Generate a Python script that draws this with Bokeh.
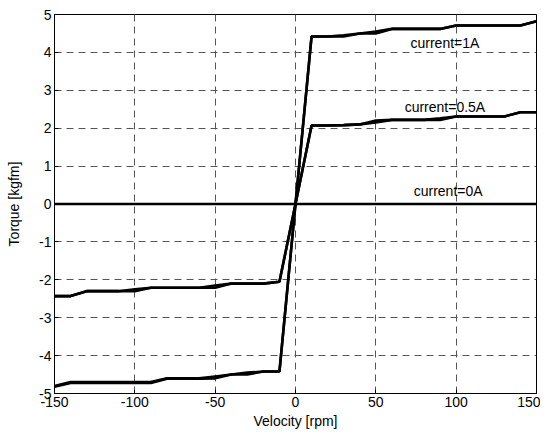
from bokeh.plotting import figure
from bokeh.models import Range1d, FixedTicker
from bokeh.core.properties import value
from bokeh.embed import file_html
from bokeh.resources import INLINE

# velocity grid (rpm)
velocity = [-150, -140, -130, -120, -110, -100, -90, -80, -70, -60, -50, -40, -30, -20, -10,
            0, 10, 20, 30, 40, 50, 60, 70, 80, 90, 100, 110, 120, 130, 140, 150]

# current = 1A, two sweeps
torque_1A_up = [-4.8, -4.7, -4.7, -4.7, -4.7, -4.7, -4.7, -4.6, -4.6, -4.6, -4.55, -4.5, -4.45, -4.42, -4.42,
                0.0, 4.42, 4.42, 4.45, 4.5, 4.55, 4.62, 4.62, 4.62, 4.62, 4.71, 4.71, 4.71, 4.71, 4.71, 4.82]
torque_1A_down = [-4.82, -4.72, -4.72, -4.72, -4.72, -4.72, -4.72, -4.61, -4.61, -4.61, -4.6, -4.5, -4.5, -4.42, -4.42,
                  0.0, 4.42, 4.42, 4.42, 4.5, 4.5, 4.62, 4.62, 4.62, 4.62, 4.71, 4.71, 4.71, 4.71, 4.71, 4.82]

# current = 0.5A, two sweeps
torque_05A_up = [-2.43, -2.43, -2.3, -2.3, -2.3, -2.25, -2.21, -2.21, -2.21, -2.21, -2.15, -2.1, -2.1, -2.1, -2.05,
                 0.0, 2.07, 2.07, 2.08, 2.1, 2.15, 2.22, 2.22, 2.22, 2.26, 2.31, 2.31, 2.31, 2.31, 2.42, 2.42]
torque_05A_down = [-2.43, -2.43, -2.3, -2.3, -2.3, -2.3, -2.21, -2.21, -2.21, -2.21, -2.21, -2.1, -2.1, -2.1, -2.05,
                   0.0, 2.07, 2.07, 2.08, 2.1, 2.2, 2.22, 2.22, 2.22, 2.22, 2.31, 2.31, 2.31, 2.31, 2.42, 2.42]

# current = 0A
torque_0A = [0.0] * len(velocity)

labels = ["current=1A", "current=0.5A", "current=0A"]
label_x = [93, 93, 95]
label_y = [4.26, 2.55, 0.34]

x_ticks = [-150, -100, -50, 0, 50, 100, 150]
x_tick_labels = ["-150", "-100", "-50", "0", "50", "100", "150"]
y_ticks = [-5, -4, -3, -2, -1, 0, 1, 2, 3, 4, 5]
y_tick_labels = ["-5", "-4", "-3", "-2", "-1", "0", "1", "2", "3", "4", "5"]

FONT = "Liberation Sans"

p = figure(width=540, height=432, output_backend="svg", toolbar_location=None,
           x_range=Range1d(-150, 150), y_range=Range1d(-5, 5),
           min_border_left=54, min_border_top=14, min_border_right=4, min_border_bottom=39)

p.outline_line_color = "black"
p.outline_line_width = 1
p.background_fill_color = "white"
p.border_fill_color = "white"

for ax in (p.xaxis[0], p.yaxis[0]):
    ax.axis_line_color = "black"
    ax.major_tick_line_color = "black"
    ax.major_tick_in = 4
    ax.major_tick_out = 0
    ax.minor_tick_line_color = None
    ax.major_label_text_font = FONT
    ax.major_label_text_font_size = "14px"
    ax.major_label_text_color = "black"
    ax.axis_label_text_font = FONT
    ax.axis_label_text_font_size = "14px"
    ax.axis_label_text_font_style = "normal"
    ax.axis_label_text_color = "black"
    ax.major_label_standoff = 3

p.xaxis[0].ticker = FixedTicker(ticks=x_ticks)
p.xaxis[0].major_label_overrides = {t: l for t, l in zip(x_ticks, x_tick_labels)}
p.yaxis[0].ticker = FixedTicker(ticks=y_ticks)
p.yaxis[0].major_label_overrides = {t: l for t, l in zip(y_ticks, y_tick_labels)}
p.xaxis[0].axis_label = "Velocity [rpm]"
p.yaxis[0].axis_label = "Torque [kgfm]"
p.xaxis[0].axis_label_standoff = 3
p.yaxis[0].axis_label_standoff = 14

p.xgrid.ticker = FixedTicker(ticks=x_ticks)
p.ygrid.ticker = FixedTicker(ticks=y_ticks)
for g in (p.xgrid[0], p.ygrid[0]):
    g.grid_line_color = "#555555"
    g.grid_line_dash = "7 5"
    g.grid_line_width = 1
    g.grid_line_alpha = 1.0

lw = 2.6
p.line(velocity, torque_0A, line_color="black", line_width=lw)
p.line(velocity, torque_05A_up, line_color="black", line_width=lw)
p.line(velocity, torque_05A_down, line_color="black", line_width=lw)
p.line(velocity, torque_1A_up, line_color="black", line_width=lw)
p.line(velocity, torque_1A_down, line_color="black", line_width=lw)

p.text(x=label_x, y=label_y, text=labels, text_font=value(FONT), text_font_size="14px",
       text_align="center", text_baseline="middle", text_color="black")

open("out.html", "w").write(file_html(p, INLINE))
